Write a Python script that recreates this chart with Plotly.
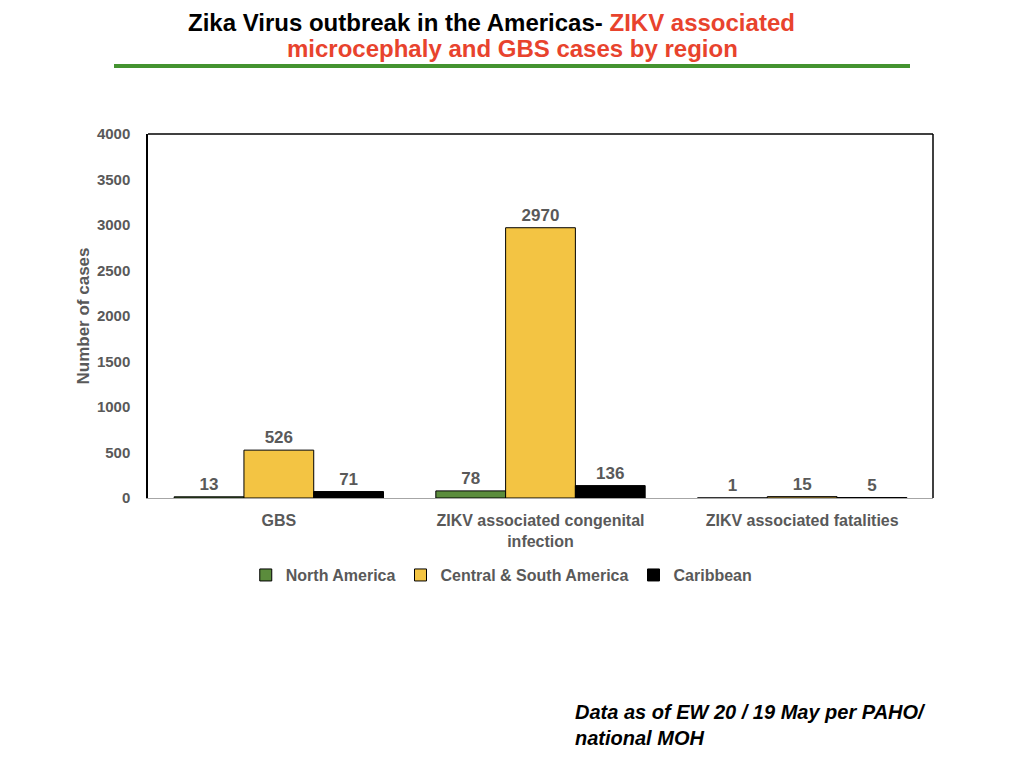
import plotly.graph_objects as go

# categories and series
categories = ["GBS", "ZIKV associated congenital<br>infection", "ZIKV associated fatalities"]
north_america = [13, 78, 1]
central_south_america = [526, 2970, 15]
caribbean = [71, 136, 5]

series_names = ["North America", "Central & South America", "Caribbean"]
series_colors = ["#5b8c3c", "#f3c443", "#000000"]
y_ticks = [0, 500, 1000, 1500, 2000, 2500, 3000, 3500, 4000]

base = "Liberation Sans, Arial, sans-serif"
grey = "#595959"
red = "#e8432d"

fig = go.Figure()
for name, vals, col in zip(series_names, [north_america, central_south_america, caribbean], series_colors):
    fig.add_trace(go.Bar(
        x=categories, y=vals, name=name,
        marker=dict(color=col, line=dict(color="#000000", width=1)),
        text=[str(v) for v in vals], textposition="outside", cliponaxis=False,
        textfont=dict(family=base, size=17, color=grey, weight="bold"),
    ))

# page has an 8px body margin, so the figure is a bit smaller than the window
fig.update_layout(
    width=1008, height=752,
    paper_bgcolor="white", plot_bgcolor="white",
    margin=dict(l=140, r=83, t=126, b=262),
    barmode="group", bargap=0.2, bargroupgap=0,
    showlegend=True,
    legend=dict(orientation="h", x=0.45, xanchor="center", y=-0.165, yanchor="top",
                font=dict(family=base, size=16, color=grey, weight="bold"), itemwidth=30),
    xaxis=dict(showline=True, linecolor="#a6a6a6", linewidth=1, ticks="", ticklabelstandoff=8,
               tickfont=dict(family=base, size=16, color=grey, weight="bold")),
    yaxis=dict(range=[0, 4000], tickvals=y_ticks, showgrid=False, zeroline=False,
               showline=True, linecolor="#000000", linewidth=1.5, ticks="", ticklabelstandoff=13,
               tickfont=dict(family=base, size=15, color=grey, weight="bold"),
               title=dict(text="Number of cases", standoff=3,
                          font=dict(family=base, size=17, color=grey, weight="bold"))),
    font=dict(family=base),
)

# frame round the plot area (top and right edges)
fig.add_shape(type="line", xref="paper", yref="paper", x0=0, x1=1, y0=1, y1=1,
              line=dict(color="#000000", width=1.5))
fig.add_shape(type="line", xref="paper", yref="paper", x0=1, x1=1, y0=0, y1=1,
              line=dict(color="#000000", width=1.5))

# title, two lines, black and red
fig.add_annotation(xref="paper", yref="paper", x=0.438, y=1.305, xanchor="center", yanchor="middle",
                   showarrow=False,
                   text="Zika Virus outbreak in the Americas- <span style='color:" + red + "'>ZIKV associated</span>",
                   font=dict(family=base, size=24, color="#000000", weight="bold"))
fig.add_annotation(xref="paper", yref="paper", x=0.464, y=1.236, xanchor="center", yanchor="middle",
                   showarrow=False, text="microcephaly and GBS cases by region",
                   font=dict(family=base, size=24, color=red, weight="bold"))
# green rule under the title
fig.add_shape(type="line", xref="paper", yref="paper", x0=-0.0433, x1=0.9707, y0=1.187, y1=1.187,
              line=dict(color="#449330", width=4))

# source note
fig.add_annotation(xref="paper", yref="paper", x=0.541, y=-0.552, xanchor="left", yanchor="top",
                   showarrow=False, align="left",
                   text="<i>Data as of EW 20 / 19 May per PAHO/<br>national MOH</i>",
                   font=dict(family=base, size=20, color="#000000", weight="bold"))

fig.write_html("out.html")
